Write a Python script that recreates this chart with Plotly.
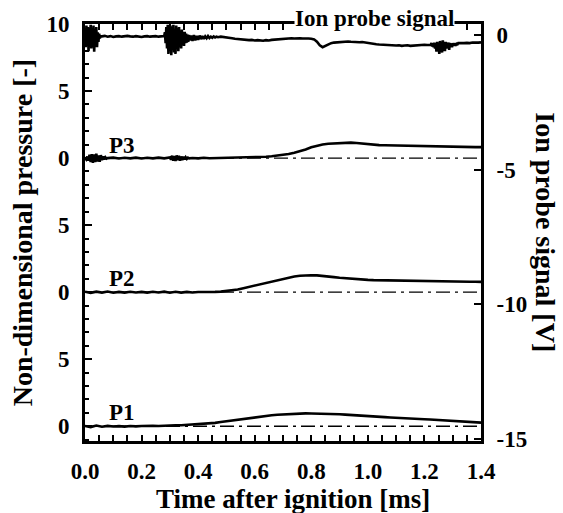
import numpy as np
import plotly.graph_objects as go

# ---------------- data ----------------
# time grids: (start, stop, count) per segment of the hand-read series
ion_segments = [(0.0, 0.055, 23), (0.06, 0.28, 23), (0.2825, 0.37, 36),
                (0.375, 0.47, 20), (0.48, 1.22, 75), (1.2225, 1.32, 40),
                (1.33, 1.40, 8)]
ion_v = [
    # burst 0-0.055 ms
    0.05, -0.45, 0.35, -0.25, 0.3, -0.6, 0.25, -0.15, 0.38, -0.5, 0.2, -0.3,
    0.35, -0.62, 0.15, -0.35, 0.3, -0.45, 0.1, -0.25, 0.05, -0.12, -0.04,
    # flat 0.06-0.28
    -0.05, -0.03, -0.06, -0.04, -0.07, -0.05, -0.04, -0.06, -0.05, -0.03, -0.05,
    -0.06, -0.04, -0.05, -0.07, -0.05, -0.04, -0.06, -0.05, -0.04, -0.06, -0.05, -0.04,
    # burst 0.28-0.37
    0.1, -0.3, 0.3, -0.5, 0.38, -0.7, 0.25, -0.4, 0.35, -0.75, 0.3, -0.55,
    0.38, -0.65, 0.2, -0.7, 0.35, -0.45, 0.25, -0.6, 0.3, -0.4, 0.15, -0.5,
    0.2, -0.35, 0.1, -0.4, 0.12, -0.3, 0.05, -0.28, 0.02, -0.25, 0.0, -0.2,
    # tail 0.375-0.47
    -0.02, -0.22, 0.0, -0.2, -0.03, -0.18, -0.02, -0.15, -0.04, -0.14,
    -0.05, -0.12, -0.04, -0.11, -0.06, -0.1, -0.05, -0.09, -0.06, -0.08,
    # 0.48-1.22
    -0.06, -0.07, -0.08, -0.1, -0.12, -0.14, -0.15, -0.17, -0.18, -0.18,
    -0.19, -0.18, -0.2, -0.19, -0.2, -0.21, -0.19, -0.2, -0.18, -0.17,
    -0.16, -0.15, -0.14, -0.13, -0.12, -0.12, -0.13, -0.12, -0.12, -0.13,
    -0.12, -0.13, -0.14, -0.16, -0.25, -0.38, -0.45, -0.4, -0.33, -0.3,
    -0.28, -0.27, -0.26, -0.25, -0.26, -0.24, -0.25, -0.26, -0.25, -0.27,
    -0.26, -0.28, -0.3, -0.31, -0.33, -0.34, -0.35, -0.36, -0.37, -0.38,
    -0.37, -0.38, -0.39, -0.38, -0.4, -0.39, -0.38, -0.4, -0.39, -0.38,
    -0.37, -0.38, -0.36, -0.37, -0.36,
    # noise 1.22-1.32
    -0.36, -0.3, -0.42, -0.33, -0.45, -0.28, -0.5, -0.3, -0.62, -0.25,
    -0.48, -0.35, -0.7, -0.22, -0.55, -0.3, -0.65, -0.2, -0.45, -0.35,
    -0.6, -0.25, -0.5, -0.3, -0.42, -0.28, -0.55, -0.3, -0.4, -0.32,
    -0.45, -0.3, -0.38, -0.33, -0.4, -0.3, -0.35, -0.32, -0.34, -0.3,
    # 1.33-1.40
    -0.31, -0.3, -0.29, -0.3, -0.28, -0.29, -0.28, -0.27,
]

p3_segments = [(0.0, 0.08, 21), (0.10, 0.28, 10), (0.30, 0.368, 18), (0.38, 1.40, 52)]
p3_v = [
    0.0, -0.1, 0.12, -0.2, 0.25, -0.3, 0.3, -0.35, 0.28, -0.3, 0.32, -0.25,
    0.2, -0.28, 0.22, -0.15, 0.12, -0.1, 0.06, -0.04, 0.0,
    0.03, -0.03, 0.02, -0.02, 0.03, -0.03, 0.02, -0.02, 0.03, -0.02,
    0.05, -0.12, 0.18, -0.2, 0.15, -0.22, 0.2, -0.15, 0.18, -0.2, 0.12,
    -0.15, 0.1, -0.1, 0.06, -0.06, 0.03, -0.02,
    0.01, -0.02, 0.02, -0.01, 0.0, 0.02, -0.01, 0.01, 0.02, 0.03,
    0.04, 0.06, 0.08, 0.1, 0.14, 0.18, 0.24, 0.3, 0.4, 0.5,
    0.64, 0.8, 0.93, 1.02, 1.07, 1.1, 1.13, 1.15, 1.15, 1.12,
    1.07, 1.02, 0.99, 0.97, 0.96, 0.95, 0.94, 0.93, 0.92, 0.9,
    0.88, 0.86, 0.85, 0.84, 0.84, 0.83, 0.83, 0.82, 0.83, 0.82,
    0.82, 0.82,
]

p2_segments = [(0.0, 1.40, 71)]
p2_v = [
    0.03, -0.05, 0.04, -0.03, 0.05, -0.04, 0.02, -0.03, 0.03, -0.02,
    0.02, -0.03, 0.03, -0.02, 0.04, -0.04, 0.03, -0.03, 0.02, -0.02,
    0.01, 0.0, 0.01, 0.02, 0.04, 0.08, 0.12, 0.2, 0.3, 0.4,
    0.5, 0.6, 0.7, 0.82, 0.92, 1.02, 1.1, 1.17, 1.22, 1.25,
    1.26, 1.25, 1.22, 1.17, 1.12, 1.07, 1.03, 1.0, 0.97, 0.94,
    0.92, 0.9, 0.89, 0.88, 0.87, 0.86, 0.85, 0.84, 0.83, 0.83,
    0.82, 0.82, 0.81, 0.81, 0.8, 0.8, 0.79, 0.79, 0.78, 0.78, 0.77,
]

p1_segments = [(0.0, 1.40, 71)]
p1_v = [
    0.02, -0.06, 0.05, -0.04, 0.03, -0.02, 0.01, -0.03, 0.02, -0.01,
    0.02, 0.0, 0.03, 0.02, 0.05, 0.04, 0.08, 0.07, 0.1, 0.12,
    0.15, 0.17, 0.22, 0.25, 0.32, 0.38, 0.43, 0.5, 0.55, 0.62,
    0.68, 0.72, 0.77, 0.82, 0.86, 0.89, 0.92, 0.94, 0.95, 0.96,
    0.95, 0.95, 0.94, 0.92, 0.91, 0.9, 0.87, 0.85, 0.82, 0.8,
    0.77, 0.74, 0.71, 0.68, 0.65, 0.62, 0.6, 0.58, 0.56, 0.54,
    0.52, 0.5, 0.47, 0.45, 0.42, 0.4, 0.37, 0.34, 0.32, 0.29, 0.27,
]

offsets = {"P1": 0, "P2": 10, "P3": 20}
left_tickvals = [0, 5, 10, 15, 20, 25, 30]
left_ticktext = ["0", "5", "0", "5", "0", "5", "10"]
x_tickvals = [0.0, 0.2, 0.4, 0.6, 0.8, 1.0, 1.2, 1.4]
x_ticktext = ["0.0", "0.2", "0.4", "0.6", "0.8", "1.0", "1.2", "1.4"]
right_tickvals = [0, -5, -10, -15]
right_ticktext = ["0", "-5", "-10", "-15"]


def grid(segments):
    return np.concatenate([np.linspace(a, b, n) for a, b, n in segments])


FONT = "Liberation Serif"
fig = go.Figure()

# baselines
for name in ["P1", "P2", "P3"]:
    fig.add_trace(go.Scatter(x=[0.0, 1.4], y=[offsets[name]] * 2, mode="lines",
                             line=dict(color="black", width=1.3, dash="14px,5px,3px,5px"),
                             showlegend=False, hoverinfo="skip"))

for name, seg, vals in [("P1", p1_segments, p1_v), ("P2", p2_segments, p2_v),
                        ("P3", p3_segments, p3_v)]:
    t = grid(seg)
    fig.add_trace(go.Scatter(x=t, y=np.array(vals) + offsets[name], mode="lines",
                             line=dict(color="black", width=2.6), showlegend=False))

fig.add_trace(go.Scatter(x=grid(ion_segments), y=ion_v, mode="lines", yaxis="y2",
                         line=dict(color="black", width=2.6), showlegend=False))

tickfont = dict(family=FONT, size=23, color="black", weight="bold")
fig.update_layout(
    width=563, height=513,
    margin=dict(l=85, r=82, t=22, b=72),
    paper_bgcolor="white", plot_bgcolor="white",
    showlegend=False,
    xaxis=dict(range=[0, 1.4], tickvals=x_tickvals, ticktext=x_ticktext,
               ticks="inside", ticklen=6, tickwidth=2, tickcolor="black",
               minor=dict(dtick=0.05, tick0=0, ticks="inside", ticklen=4, tickwidth=2, tickcolor="black"),
               showline=True, linewidth=3, linecolor="black", mirror="allticks",
               showgrid=False, zeroline=False, tickfont=tickfont, ticklabelstandoff=7),
    yaxis=dict(range=[-1.1, 30], tickvals=left_tickvals, ticktext=left_ticktext,
               ticks="inside", ticklen=7, tickwidth=2, tickcolor="black",
               minor=dict(dtick=1, tick0=0, ticks="inside", ticklen=4, tickwidth=2, tickcolor="black"),
               showline=True, linewidth=3, linecolor="black", mirror=False,
               showgrid=False, zeroline=False, tickfont=tickfont, ticklabelstandoff=8),
    yaxis2=dict(range=[-15.07, 0.41], overlaying="y", side="right",
                tickvals=right_tickvals, ticktext=right_ticktext,
                ticks="inside", ticklen=7, tickwidth=2, tickcolor="black",
                showline=True, linewidth=3, linecolor="black",
                showgrid=False, zeroline=False, tickfont=tickfont, ticklabelstandoff=8),
)

title_font = dict(family=FONT, size=28, color="black", weight="bold")
xtitle_font = dict(family=FONT, size=27, color="black", weight="bold")
label_font = dict(family=FONT, size=23, color="black", weight="bold")
ann = [
    dict(text="Time after ignition [ms]", x=0.525, y=-0.14, xref="paper", yref="paper",
         showarrow=False, font=xtitle_font, xanchor="center", yanchor="middle"),
    dict(text="Non-dimensional pressure [-]", x=-0.157, y=0.5, xref="paper", yref="paper",
         showarrow=False, font=title_font, textangle=-90, xanchor="center", yanchor="middle"),
    dict(text="Ion probe signal [V]", x=1.162, y=0.5, xref="paper", yref="paper",
         showarrow=False, font=title_font, textangle=90, xanchor="center", yanchor="middle"),
    dict(text="Ion probe signal", x=0.732, y=1.012, xref="paper", yref="paper",
         showarrow=False, font=label_font, bgcolor="white", borderpad=0,
         xanchor="center", yanchor="middle"),
    dict(text="P3", x=0.131, y=20.97, xref="x", yref="y", showarrow=False, font=label_font),
    dict(text="P2", x=0.1325, y=10.99, xref="x", yref="y", showarrow=False, font=label_font),
    dict(text="P1", x=0.1325, y=1.0, xref="x", yref="y", showarrow=False, font=label_font),
]
fig.update_layout(annotations=ann)

fig.write_html("out.html")
